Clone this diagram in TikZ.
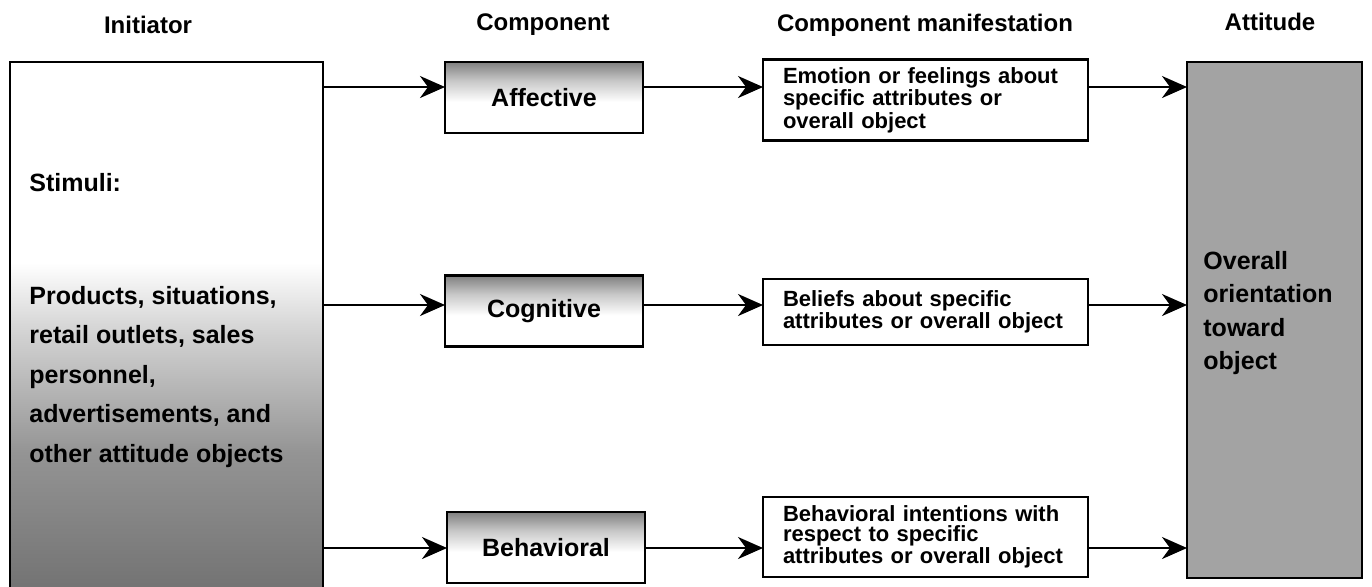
\documentclass[tikz,border=0pt]{standalone}
\usepackage{fontspec}
\setmainfont{Liberation Sans}
\usetikzlibrary{arrows.meta}

% grey fades used by the shaded boxes (path covers 25bp..75bp)
\pgfdeclareverticalshading{compfade}{100bp}{color(0bp)=(white); color(47bp)=(white); color(62bp)=(black!22); color(75bp)=(black!50); color(100bp)=(black!50)}
\pgfdeclareverticalshading{initfade}{100bp}{color(0bp)=(black!55); color(25bp)=(black!55); color(38bp)=(black!42); color(50bp)=(black!16); color(56bp)=(white); color(100bp)=(white)}

\begin{document}
\begin{tikzpicture}[x=0.5pt,y=-0.5pt,
  frame/.style={draw=black, line width=1.3pt, inner sep=0pt, outer sep=0pt},
  head/.style={font=\fontsize{12}{14}\selectfont\bfseries},
  compbox/.style={frame, shading=compfade, minimum width=99pt, minimum height=35.5pt,
    font=\fontsize{12.5}{15}\selectfont\bfseries},
  manbox/.style={frame, fill=white, minimum width=162.5pt, text width=142.5pt, inner xsep=10pt,
    align=left, font=\fontsize{11}{10}\selectfont\bfseries},
  bigtext/.style={font=\fontsize{12.5}{15}\selectfont\bfseries, inner sep=0pt, anchor=west, align=left},
  flow/.style={-{Stealth[length=12.5pt,width=11pt,inset=4pt]}, line width=1.2pt},
]
\useasboundingbox (0,0) rectangle (1372,586);

% column headings
\node[head] (hinit) at (148,25) {Initiator};
\node[head] (hcomp) at (543,25) {Component};
\node[head] (hman) at (925,25) {Component manifestation};
\node[head] (hatt) at (1270,22) {Attitude};

% initiator
\node[frame, shading=initfade, minimum width=156.5pt, minimum height=264pt] (init) at (166.5,326) {};
\node[bigtext] (stim) at (29,183) {Stimuli:};
\node[bigtext, font=\fontsize{12.5}{19.75}\selectfont\bfseries] (objs) at (29,377)
  {Products, situations,\\retail outlets, sales\\personnel,\\advertisements, and\\other attitude objects};

% components
\node[compbox] (aff) at (544,97.5) {Affective};
\node[compbox] (cog) at (544,311) {Cognitive};
\node[compbox] (beh) at (546,547.5) {Behavioral};

% component manifestations
\node[manbox, minimum height=40.5pt] (man1) at (925.5,100)
  {Emotion or feelings about\\specific attributes or\\overall object};
\node[manbox, minimum height=33pt] (man2) at (925.5,312)
  {Beliefs about specific\\attributes or overall object};
\node[manbox, minimum height=40pt] (man3) at (925.5,537)
  {Behavioral intentions with\\respect to specific\\attributes or overall object};

% attitude
\node[frame, fill=black!36, minimum width=87.5pt, minimum height=258pt] (att) at (1274.5,320) {};
\node[bigtext, font=\fontsize{12.5}{16.7}\selectfont\bfseries] (orient) at (1203,313)
  {Overall\\orientation\\toward\\object};

% flow rows
\coordinate (r1) at (0,87);
\coordinate (r2) at (0,305);
\coordinate (r3) at (0,548);

\draw[flow] (init.east |- r1) -- (aff.west |- r1);
\draw[flow] (aff.east |- r1) -- (man1.west |- r1);
\draw[flow] (man1.east |- r1) -- (att.west |- r1);

\draw[flow] (init.east |- r2) -- (cog.west |- r2);
\draw[flow] (cog.east |- r2) -- (man2.west |- r2);
\draw[flow] (man2.east |- r2) -- (att.west |- r2);

\draw[flow] (init.east |- r3) -- (beh.west |- r3);
\draw[flow] (beh.east |- r3) -- (man3.west |- r3);
\draw[flow] (man3.east |- r3) -- (att.west |- r3);
\end{tikzpicture}
\end{document}
